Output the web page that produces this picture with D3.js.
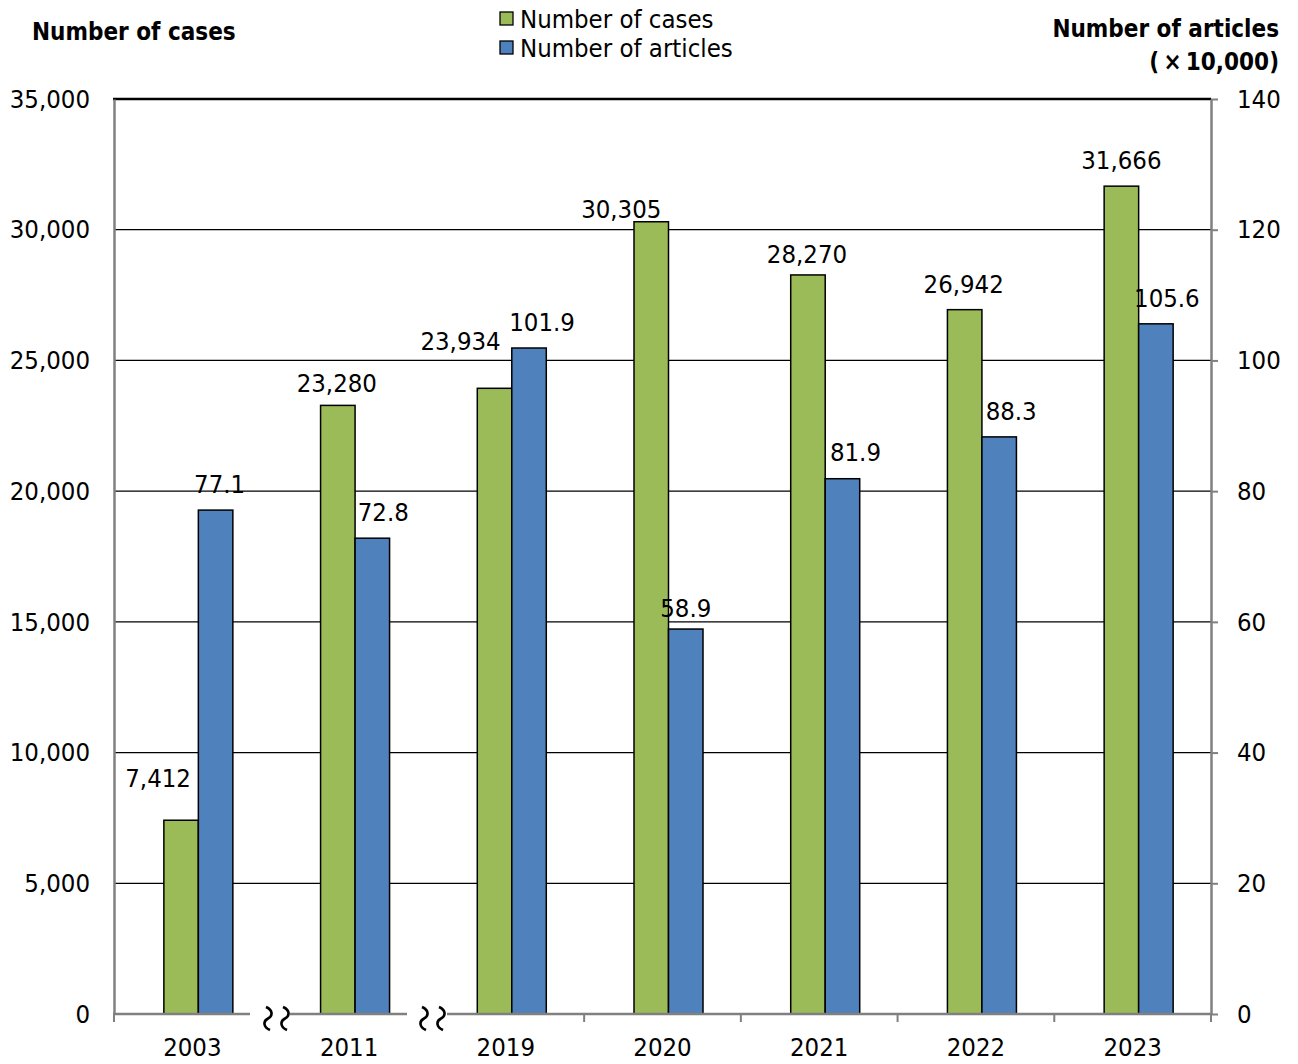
<!DOCTYPE html>
<html>
<head>
<meta charset="utf-8">
<script src="https://cdn.jsdelivr.net/npm/d3@7"></script>
<style>
  body { margin: 0; background: #fff; }
  svg { display: block; }
  text { font-family: "DejaVu Sans Condensed", "DejaVu Sans", sans-serif; fill: #000; }
</style>
</head>
<body>
<svg id="chart" width="1298" height="1064"></svg>
<script>
// ---- data ----
const years = ["2003", "2011", "2019", "2020", "2021", "2022", "2023"];
const cases = [7412, 23280, 23934, 30305, 28270, 26942, 31666];
const articles = [77.1, 72.8, 101.9, 58.9, 81.9, 88.3, 105.6];
const leftTicks = [0, 5000, 10000, 15000, 20000, 25000, 30000, 35000];
const rightTicks = [0, 20, 40, 60, 80, 100, 120, 140];
const seriesNames = ["Number of cases", "Number of articles"];
const colors = ["#9BBB59", "#4F81BD"];

// label nudges (layout only)
const caseLabelShift = [[-23, -42], [-1, -23], [-34, -47], [-30, -13], [-1, -21], [-1, -26], [0, -26]];
const artLabelShift = [[4, -26], [11, -26], [13, -26], [0, -21], [13, -27], [12, -26], [11, -26]];

const svg = d3.select("#chart");
const L = 114, R = 1211, T = 99, B = 1014;

const x = d3.scaleBand().domain(years).range([L, R]).padding(0);
const yL = d3.scaleLinear().domain([0, 35000]).range([B, T]);
const yR = d3.scaleLinear().domain([0, 140]).range([B, T]);
const fmt = d3.format(",");

const FS = 25.5;
const FSB = 24;

// gridlines
svg.append("g").selectAll("line").data(leftTicks.filter(d => d > 0 && d < 35000)).join("line")
  .attr("x1", L).attr("x2", R).attr("y1", d => yL(d)).attr("y2", d => yL(d))
  .attr("stroke", "#000").attr("stroke-width", 1.2);

// bars
const bw = 34.5;
const off = -28.5;
const g = svg.append("g");
g.selectAll("rect.c").data(years).join("rect").attr("class", "c")
  .attr("x", (d) => x(d) + x.bandwidth() / 2 + off)
  .attr("y", (d, i) => yL(cases[i]))
  .attr("width", bw)
  .attr("height", (d, i) => B - yL(cases[i]))
  .attr("fill", colors[0]).attr("stroke", "#000").attr("stroke-width", 1.5);
g.selectAll("rect.a").data(years).join("rect").attr("class", "a")
  .attr("x", (d) => x(d) + x.bandwidth() / 2 + off + bw)
  .attr("y", (d, i) => yR(articles[i]))
  .attr("width", bw)
  .attr("height", (d, i) => B - yR(articles[i]))
  .attr("fill", colors[1]).attr("stroke", "#000").attr("stroke-width", 1.5);

// labels
g.selectAll("text.cl").data(years).join("text").attr("class", "cl")
  .attr("x", (d, i) => x(d) + x.bandwidth() / 2 + off + bw / 2 + caseLabelShift[i][0])
  .attr("y", (d, i) => yL(cases[i]) + caseLabelShift[i][1])
  .attr("dy", "0.36em").attr("text-anchor", "middle").attr("font-size", FS)
  .text((d, i) => fmt(cases[i]));
g.selectAll("text.al").data(years).join("text").attr("class", "al")
  .attr("x", (d, i) => x(d) + x.bandwidth() / 2 + off + bw * 1.5 + artLabelShift[i][0])
  .attr("y", (d, i) => yR(articles[i]) + artLabelShift[i][1])
  .attr("dy", "0.36em").attr("text-anchor", "middle").attr("font-size", FS)
  .text((d, i) => d3.format(".1f")(articles[i]));

// top border
svg.append("line").attr("x1", L - 1).attr("x2", R).attr("y1", T).attr("y2", T)
  .attr("stroke", "#000").attr("stroke-width", 2.5);

// left axis
const axL = svg.append("g").attr("transform", `translate(${L},0)`)
  .call(d3.axisLeft(yL).tickValues(leftTicks).tickSize(0).tickPadding(24).tickFormat(fmt));
axL.select(".domain").attr("stroke", "#808080").attr("stroke-width", 2.5);
axL.selectAll("text").attr("font-size", FS).style("font-family", null);

// right axis
const axR = svg.append("g").attr("transform", `translate(${R},0)`)
  .call(d3.axisRight(yR).tickValues(rightTicks).tickSize(7).tickPadding(19).tickSizeOuter(0));
axR.select(".domain").attr("stroke", "#808080").attr("stroke-width", 2.5);
axR.selectAll(".tick line").attr("stroke", "#808080").attr("stroke-width", 2);
axR.selectAll("text").attr("font-size", FS).style("font-family", null);

// bottom axis (with breaks)
const axB = svg.append("g").attr("transform", `translate(0,${B})`)
  .call(d3.axisBottom(x).tickSize(0).tickPadding(24));
axB.select(".domain").remove();
axB.selectAll("text").attr("font-size", FS).style("font-family", null);
const segs = [[L - 1, 250], [290, 407], [447, R]];
svg.append("g").selectAll("line").data(segs).join("line")
  .attr("x1", d => d[0]).attr("x2", d => d[1]).attr("y1", B).attr("y2", B)
  .attr("stroke", "#808080").attr("stroke-width", 2.5);
// category boundary ticks
const bounds = years.map(d => x(d)).concat([R]).filter(v => v < 250 || v > 447 || (v > 290 && v < 407));
svg.append("g").selectAll("line").data(bounds).join("line")
  .attr("x1", d => d).attr("x2", d => d).attr("y1", B).attr("y2", B + 8)
  .attr("stroke", "#808080").attr("stroke-width", 2);
// break squiggles
const sq = [268, 285, 424, 441];
svg.append("g").selectAll("path").data(sq).join("path")
  .attr("d", d => `M${d - 2},1007 C${d + 5},1010 ${d + 5},1016 ${d},1018.5 S${d - 5},1027 ${d + 2},1030`)
  .attr("fill", "none").attr("stroke", "#000").attr("stroke-width", 2.6);

// axis titles
svg.append("text").attr("x", 32).attr("y", 31).attr("dy", "0.36em")
  .attr("font-size", FSB).attr("font-weight", "bold").text("Number of cases");
svg.append("text").attr("x", 1279).attr("y", 28).attr("dy", "0.36em").attr("text-anchor", "end")
  .attr("font-size", FSB).attr("font-weight", "bold").text("Number of articles");
svg.append("text").attr("x", 1279).attr("y", 61).attr("dy", "0.36em").attr("text-anchor", "end")
  .attr("font-size", FSB).attr("font-weight", "bold").text("(\u2009\u00D7\u200910,000)");

// legend
const lg = svg.append("g");
seriesNames.forEach((n, i) => {
  const yy = 19 + i * 29;
  lg.append("rect").attr("x", 500).attr("y", yy - 7).attr("width", 13).attr("height", 13)
    .attr("fill", colors[i]).attr("stroke", "#000").attr("stroke-width", 1.3);
  lg.append("text").attr("x", 520).attr("y", yy).attr("dy", "0.36em").attr("font-size", FS).text(n);
});
</script>
</body>
</html>
